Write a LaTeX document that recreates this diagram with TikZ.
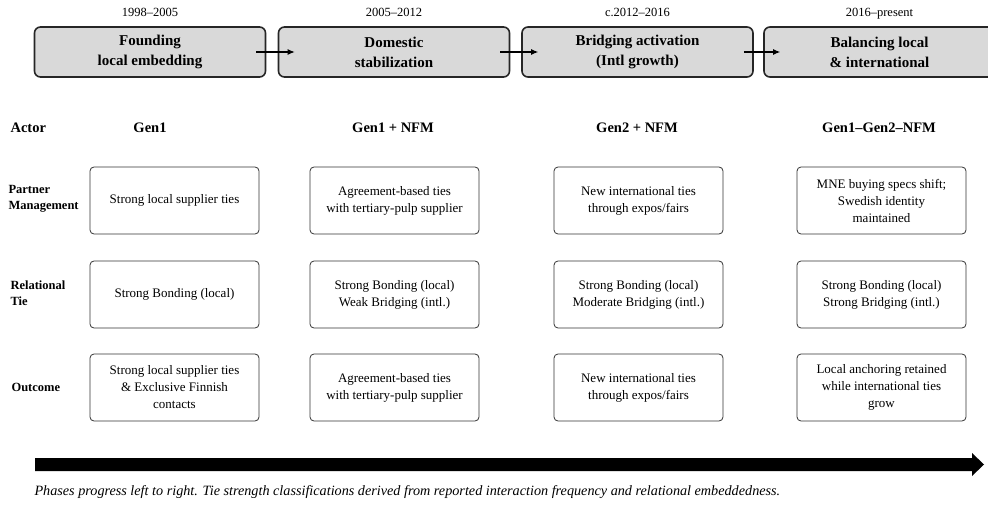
\documentclass[tikz,border=0pt]{standalone}
\usepackage{fontspec}
\setmainfont{Liberation Serif}
\usetikzlibrary{positioning, calc, arrows.meta}

\begin{document}
\begin{tikzpicture}[x=1pt, y=-1pt,
    phase/.style={draw=black!85, line width=1.6pt, fill=gray!30, rounded corners=6pt,
        minimum width=231pt, minimum height=50pt, align=center,
        font=\fontsize{15}{20}\selectfont\bfseries},
    year/.style={anchor=base, font=\fontsize{12.5}{15}\selectfont},
    actor/.style={font=\fontsize{14.5}{17}\selectfont\bfseries},
    rowlab/.style={anchor=west, align=left, font=\fontsize{12.5}{16}\selectfont\bfseries},
    cell/.style={draw=black!80, line width=0.8pt, rounded corners=4pt,
        minimum width=169pt, minimum height=67pt, align=center,
        font=\fontsize{13}{17}\selectfont},
    flow/.style={-{Latex[length=7pt,width=6pt]}, line width=1.1pt}]
    \useasboundingbox (0,0) rectangle (988,513);

    % Phases
    \node[phase] (p1) at (150,52) {Founding\\local embedding};
    \node[phase] (p2) at (394,52) {Domestic\\stabilization};
    \node[phase] (p3) at (637.5,52) {Bridging activation\\(Intl growth)};
    \node[phase] (p4) at (879.5,52) {Balancing local\\\& international};
    \node[year] (y1) at (150,17) {1998--2005};
    \node[year] (y2) at (394,17) {2005--2012};
    \node[year] (y3) at (637.5,17) {c.2012--2016};
    \node[year] (y4) at (879.5,17) {2016--present};
    \foreach \a/\b in {p1/p2, p2/p3, p3/p4}
        \draw[flow, shorten <=-10pt, shorten >=-17pt] (\a.east) -- (\b.west);

    % Actors
    \node[actor, anchor=west] (actor) at (7,128) {Actor};
    \node[actor] (g1) at (150,128) {Gen1};
    \node[actor] (g2) at (393,128) {Gen1 + NFM};
    \node[actor] (g3) at (637,128) {Gen2 + NFM};
    \node[actor] (g4) at (879,128) {Gen1--Gen2--NFM};

    % Rows
    \node[rowlab] (lpm) at (5,199) {Partner\\Management};
    \node[rowlab] (lrt) at (7,293) {Relational\\Tie};
    \node[rowlab] (loc) at (8,387) {Outcome};

    \node[cell] (pm1) at (174.5,200.5) {Strong local supplier ties};
    \node[cell] (pm2) at (394.5,200.5) {Agreement-based ties\\with tertiary-pulp supplier};
    \node[cell] (pm3) at (638.5,200.5) {New international ties\\through expos/fairs};
    \node[cell] (pm4) at (881.5,200.5) {MNE buying specs shift;\\Swedish identity\\maintained};

    \node[cell] (rt1) at (174.5,294.5) {Strong Bonding (local)};
    \node[cell] (rt2) at (394.5,294.5) {Strong Bonding (local)\\Weak Bridging (intl.)};
    \node[cell] (rt3) at (638.5,294.5) {Strong Bonding (local)\\Moderate Bridging (intl.)};
    \node[cell] (rt4) at (881.5,294.5) {Strong Bonding (local)\\Strong Bridging (intl.)};

    \node[cell] (oc1) at (174.5,387.5) {Strong local supplier ties\\\& Exclusive Finnish\\contacts};
    \node[cell] (oc2) at (394.5,387.5) {Agreement-based ties\\with tertiary-pulp supplier};
    \node[cell] (oc3) at (638.5,387.5) {New international ties\\through expos/fairs};
    \node[cell] (oc4) at (881.5,387.5) {Local anchoring retained\\while international ties\\grow};

    % Timeline arrow
    \fill (35,458) -- (972,458) -- (972,453) -- (984,464.5) -- (972,476)
        -- (972,471) -- (35,471) -- cycle;
    \node[anchor=west, font=\fontsize{14.2}{17}\selectfont\itshape] (note) at (31,492)
        {Phases progress left to right. Tie strength classifications derived from reported interaction frequency and relational embeddedness.};
\end{tikzpicture}
\end{document}
